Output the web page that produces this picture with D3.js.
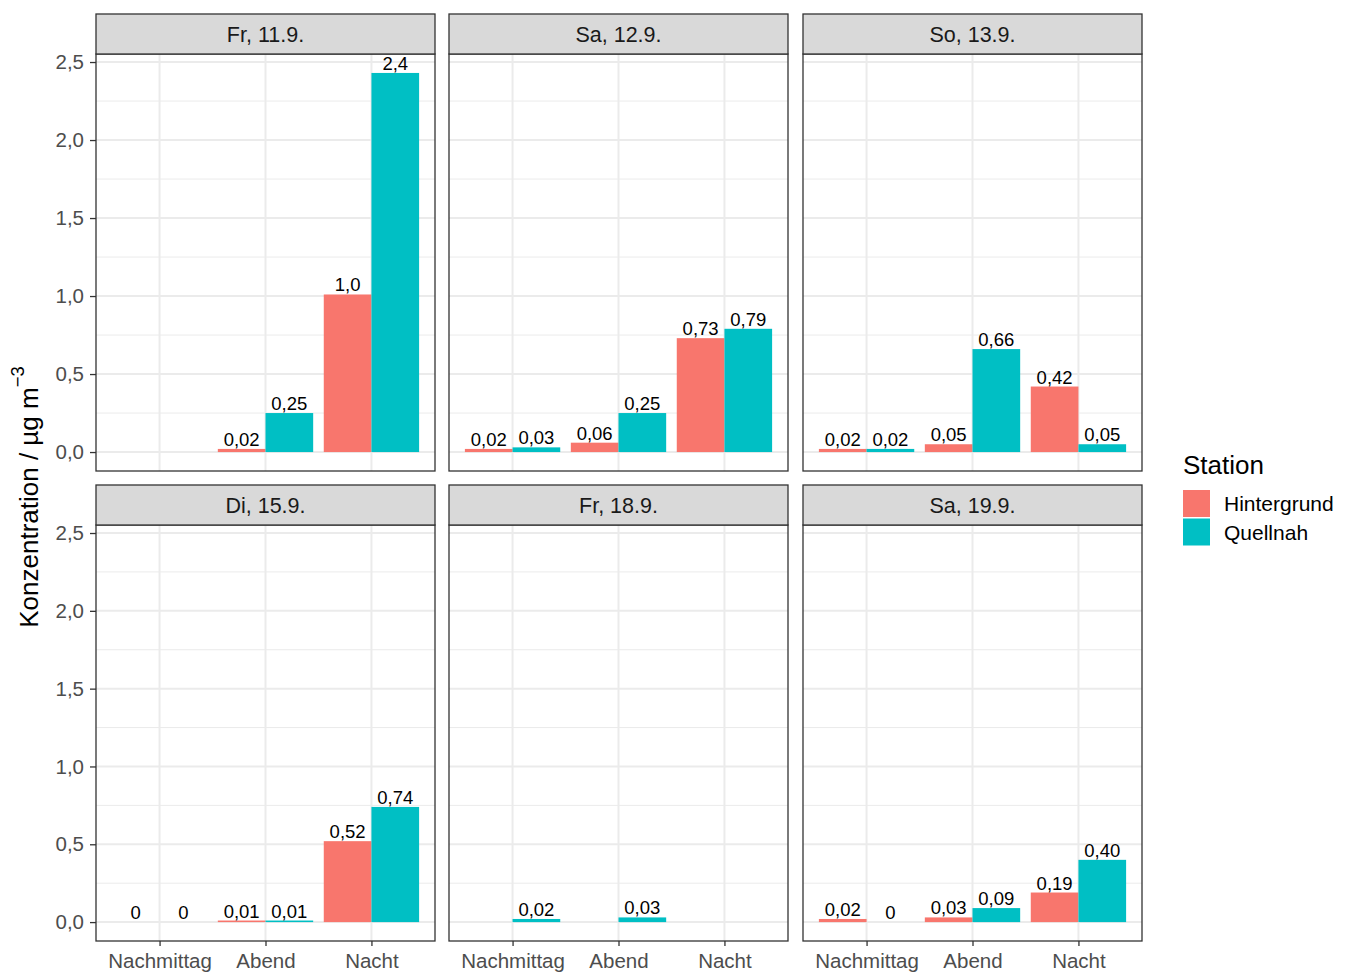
<!DOCTYPE html>
<html><head><meta charset="utf-8">
<script src="https://cdn.jsdelivr.net/npm/d3@7"></script>
<style>body{margin:0;background:#fff} svg{display:block} text{font-family:"Liberation Sans",Arial,sans-serif}</style>
</head><body><svg id="c" width="1347" height="973"></svg>
<script>
// ---- data ----
const days = ["Fr, 11.9.","Sa, 12.9.","So, 13.9.","Di, 15.9.","Fr, 18.9.","Sa, 19.9."];
const times = ["Nachmittag","Abend","Nacht"];
const stations = ["Hintergrund","Quellnah"];
const hintergrund = [[null,0.02,1.01],[0.02,0.06,0.73],[0.02,0.05,0.42],[0,0.01,0.52],[null,null,null],[0.02,0.03,0.19]];
const quellnah    = [[null,0.25,2.43],[0.03,0.25,0.79],[0.02,0.66,0.05],[0,0.01,0.74],[0.02,0.03,null],[0,0.09,0.40]];
const yTicks = [0,0.5,1,1.5,2,2.5];
const yMinor = [0.25,0.75,1.25,1.75,2.25];
const colors = ["#F8766D","#00BFC4"];

d3.formatDefaultLocale({decimal:",",thousands:".",grouping:[3],currency:["","€"]});
const f1 = d3.format(".1f"), f2 = d3.format(".2f");
const lab = v => v === 0 ? "0" : (v >= 1 ? f1(v) : f2(v));

const svg = d3.select("#c");
const colX = [96,449,803], stripTop = [14,485], stripH = 40, panelBottom = [471,941], pw = 339;
const series = [hintergrund, quellnah];
const dataMax = d3.max(series.flat(2));
const ext = dataMax*0.05;

const x = d3.scalePoint().domain(times).range([0,pw]).padding(0.6);
const xi = d3.scaleBand().domain(stations).range([-0.45*x.step(), 0.45*x.step()]);
const color = d3.scaleOrdinal().domain(stations).range(colors);

days.forEach((day, k) => {
  const col = k % 3, row = Math.floor(k/3);
  const x0 = colX[col], top = stripTop[row] + stripH, bot = panelBottom[row];
  const y = d3.scaleLinear().domain([-ext, dataMax+ext]).range([bot, top]);
  const g = svg.append("g").attr("transform", `translate(${x0},0)`);
  g.append("rect").attr("x",0).attr("y",top).attr("width",pw).attr("height",bot-top).attr("fill","#fff");
  // grid
  g.selectAll(".mi").data(yMinor).join("line").attr("x1",0).attr("x2",pw)
    .attr("y1",d=>y(d)).attr("y2",d=>y(d)).attr("stroke","#ebebeb").attr("stroke-width",1);
  g.selectAll(".ma").data(yTicks).join("line").attr("x1",0).attr("x2",pw)
    .attr("y1",d=>y(d)).attr("y2",d=>y(d)).attr("stroke","#ebebeb").attr("stroke-width",2);
  g.selectAll(".mv").data(times).join("line").attr("x1",d=>x(d)).attr("x2",d=>x(d))
    .attr("y1",top).attr("y2",bot).attr("stroke","#ebebeb").attr("stroke-width",2);
  // bars
  const recs = [];
  stations.forEach((s, si) => times.forEach((t, ti) => {
    const v = series[si][k][ti];
    if (v !== null) recs.push({s, t, v});
  }));
  g.selectAll(".bar").data(recs).join("rect")
    .attr("x", d => x(d.t) + xi(d.s)).attr("width", xi.bandwidth())
    .attr("y", d => y(Math.max(0,d.v))).attr("height", d => Math.abs(y(d.v)-y(0)))
    .attr("fill", d => color(d.s));
  g.selectAll(".lbl").data(recs).join("text")
    .attr("x", d => x(d.t) + xi(d.s) + xi.bandwidth()/2).attr("y", d => y(d.v) - 3)
    .attr("text-anchor","middle").attr("font-size",18.5).attr("fill","#000").text(d => lab(d.v));
  // border
  g.append("rect").attr("x",0).attr("y",top).attr("width",pw).attr("height",bot-top)
    .attr("fill","none").attr("stroke","#333").attr("stroke-width",1.3);
  // strip
  g.append("rect").attr("x",0).attr("y",stripTop[row]).attr("width",pw).attr("height",stripH)
    .attr("fill","#d9d9d9").attr("stroke","#333").attr("stroke-width",1.3);
  g.append("text").attr("x",pw/2).attr("y",stripTop[row]+stripH/2).attr("dy","0.36em")
    .attr("text-anchor","middle").attr("font-size",21.5).attr("fill","#1a1a1a").text(day);
  // axes
  if (col === 0) {
    const ay = g.append("g").call(d3.axisLeft(y).tickValues(yTicks).tickSize(6).tickPadding(6).tickFormat(d3.format(".1f")));
    ay.select(".domain").remove();
    ay.selectAll("line").attr("stroke","#333").attr("stroke-width",1.3);
    ay.selectAll("text").attr("font-size",20.5).attr("fill","#4d4d4d").attr("font-family",null);
  }
  if (row === 1) {
    const ax = g.append("g").attr("transform",`translate(0,${bot})`).call(d3.axisBottom(x).tickSize(5).tickPadding(7.5));
    ax.select(".domain").remove();
    ax.selectAll("line").attr("stroke","#333").attr("stroke-width",1.3);
    ax.selectAll("text").attr("font-size",20.5).attr("fill","#4d4d4d").attr("font-family",null);
  }
});

// y title
const yt = svg.append("text").attr("transform","translate(38,497) rotate(-90)")
  .attr("text-anchor","middle").attr("font-size",26).attr("fill","#000");
yt.append("tspan").text("Konzentration / µg m");
yt.append("tspan").attr("font-size",18.5).attr("dy","-0.75em").text("−3");

// legend
const lg = svg.append("g").attr("transform","translate(1183,0)");
lg.append("text").attr("x",0).attr("y",474).attr("font-size",26).attr("fill","#000").text("Station");
stations.forEach((s,i) => {
  lg.append("rect").attr("x",0).attr("y",490+i*28.5).attr("width",27).attr("height",27).attr("fill",color(s));
  lg.append("text").attr("x",41).attr("y",511+i*28.5).attr("font-size",21).attr("fill","#000").text(s);
});
</script></body></html>
